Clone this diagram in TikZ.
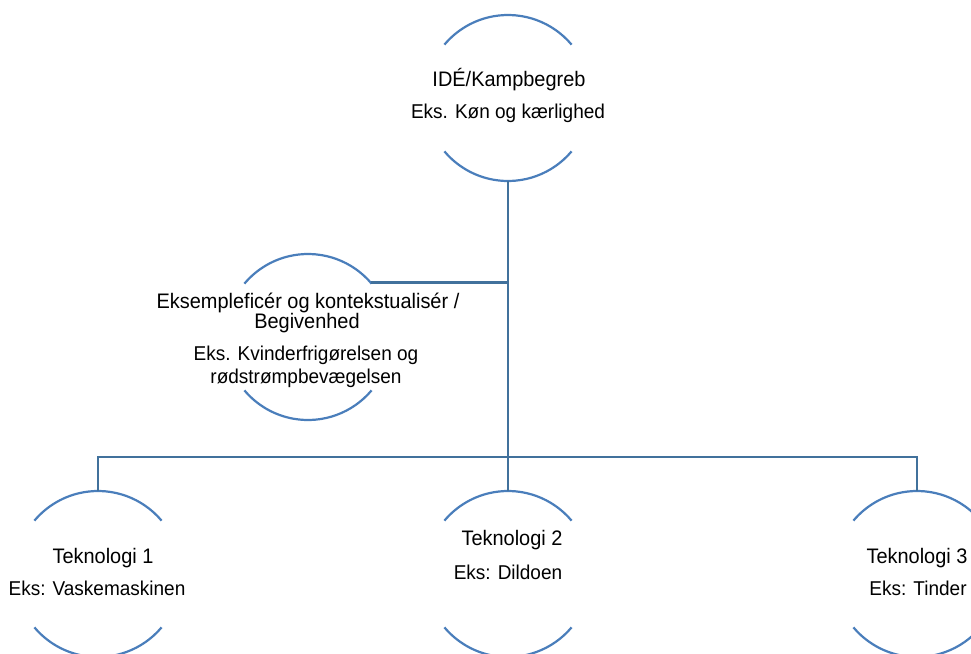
\documentclass[tikz,border=0pt]{standalone}
\usepackage{fontspec}
\setmainfont{Liberation Sans}[FakeStretch = 0.95]
\definecolor{arcblue}{RGB}{74,126,187}
\definecolor{linkblue}{RGB}{65,113,156}
\tikzset{
    ring/.style = {circle, minimum size = 166pt, inner sep = 0pt, outer sep = 0pt},
    rim/.style = {draw = arcblue, line width = 2.2pt},
    link/.style = {draw = linkblue, line width = 2.6pt},
    head/.style = {anchor = base, font = \fontsize{21}{21}\selectfont},
    sub/.style = {anchor = base, font = \fontsize{20}{20}\selectfont},
}
\begin{document}
\begin{tikzpicture}[x = 1pt, y = 1pt]
            \useasboundingbox (0, 0) rectangle (971, -653);
            \clip (0, 0) rectangle (971, -653);

            \path
                (508, -98) node (idea) [ring] {}
                (308, -337) node (event) [ring] {}
                (98, -574) node (tech1) [ring] {}
                (508, -574) node (tech2) [ring] {}
                (917, -574) node (tech3) [ring] {}
            ;

            % open circles: only the top and bottom arcs are drawn
            \foreach \c in {idea, event, tech1, tech2, tech3} {
                \draw[rim] (\c.40) arc [start angle = 40, end angle = 140, radius = 83pt];
                \draw[rim] (\c.-40) arc [start angle = -40, end angle = -140, radius = 83pt];
            }

            \coordinate (bus) at (508, -457);
            \draw[link] (idea.south) -- (tech2.north);
            \draw[link] (tech1.north) |- (bus) -| (tech3.north);
            \draw[link] (event.41) -- (event.41 -| idea.south);

            \path
                (509, -86) node (ideahead) [head] {IDÉ/Kampbegreb}
                (508, -118) node (ideasub) [sub] {Eks. Køn og kærlighed}

                (308, -308) node (eventhead) [head] {Eksempleficér og kontekstualisér /}
                (307, -328) node (eventhead2) [head] {Begivenhed}
                (306, -360) node (eventsub) [sub] {Eks. Kvinderfrigørelsen og}
                (306, -383) node (eventsub2) [sub] {rødstrømpbevægelsen}

                (103, -563) node (tech1head) [head] {Teknologi 1}
                (97, -595) node (tech1sub) [sub] {Eks: Vaskemaskinen}
                (512, -545) node (tech2head) [head] {Teknologi 2}
                (508, -579) node (tech2sub) [sub] {Eks: Dildoen}
                (917, -563) node (tech3head) [head] {Teknologi 3}
                (918, -595) node (tech3sub) [sub] {Eks: Tinder}
            ;
\end{tikzpicture}
\end{document}
